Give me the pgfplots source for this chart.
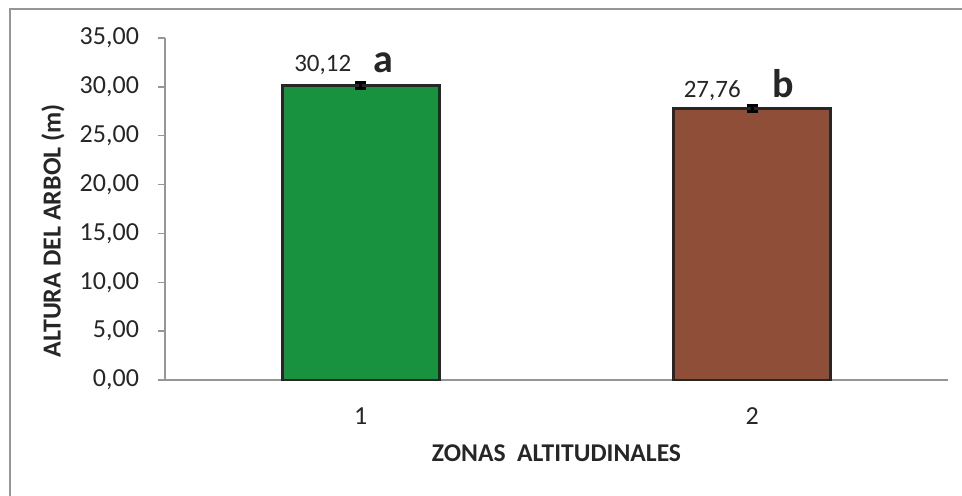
\documentclass[border=0pt]{standalone}
\usepackage{pgfplots}
\pgfplotsset{compat=1.18}
\usepackage{fontspec}
\setmainfont{Carlito}

\definecolor{verde}{RGB}{24,146,62}
\definecolor{cafe}{RGB}{143,78,56}
\definecolor{eje}{RGB}{150,150,150}

\begin{document}
\begin{tikzpicture}[font=\fontsize{13}{15}\selectfont]
\useasboundingbox (-82.5pt,-58pt) rectangle (398.5pt,190pt);
% marco exterior (solo se ven los bordes izquierdo y superior)
\draw[eje, line width=0.9pt] (-77.5pt,-70pt) -- (-77.5pt,185.5pt) -- (420pt,185.5pt);
\begin{axis}[
	scale only axis,
	width=391.5pt, height=171pt,
	xmin=0.5, xmax=2.5,
	ymin=0, ymax=35,
	axis lines=left,
	axis line style={eje, line width=0.7pt, -},
	tick style={eje, line width=0.7pt},
	tick align=outside,
	major tick length=3.5pt,
	ytick={0,5,...,35},
	xtick={1,2},
	xtick style={draw=none},
	extra x ticks={0.5,1.5,2.5},
	extra x tick labels={},
	extra x tick style={tick style={eje, line width=0.7pt}, major tick length=3.5pt},
	/pgf/number format/assume math mode=true,
	yticklabel style={/pgf/number format/fixed, /pgf/number format/fixed zerofill,
		/pgf/number format/precision=2, /pgf/number format/use comma,
		xshift=-6pt, text=black!85},
	xticklabel style={yshift=-7pt, text=black!85},
	ylabel={\bfseries ALTURA DEL ARBOL (m)},
	ylabel style={at={(axis description cs:-0.143,0.436)}, anchor=center, text=black!85},
	xlabel={\fontsize{12.8}{15}\selectfont\bfseries ZONAS\ \ ALTITUDINALES},
	xlabel style={at={(axis description cs:0.5,-0.213)}, anchor=center, text=black!85},
	ybar, bar width=78.5pt, bar shift=0pt,
	nodes near coords,
	nodes near coords style={/pgf/number format/fixed, /pgf/number format/fixed zerofill,
		/pgf/number format/precision=2, /pgf/number format/use comma,
		text=black!85, anchor=base, font=\fontsize{12.5}{15}\selectfont},
	clip=false,
]
\addplot[fill=verde, draw=black!85, line width=1.3pt,
	every node near coord/.append style={xshift=-19pt, yshift=7pt},
	error bars/.cd, y dir=both, y explicit,
	error mark=|,
	error bar style={black, line width=1.5pt},
	error mark options={black, line width=1.5pt, mark size=2.75pt},
	]
	coordinates {(1,30.12) +- (0,0.3)};
\addplot[fill=cafe, draw=black!85, line width=1.3pt,
	every node near coord/.append style={xshift=-20pt, yshift=5.4pt},
	error bars/.cd, y dir=both, y explicit,
	error mark=|,
	error bar style={black, line width=1.5pt},
	error mark options={black, line width=1.5pt, mark size=2.75pt},
	]
	coordinates {(2,27.76) +- (0,0.3)};
\node[anchor=base, font=\fontsize{20}{24}\selectfont\bfseries, text=black!85] at (axis cs:1.057,31.5) {a};
\node[anchor=base, font=\fontsize{20}{24}\selectfont\bfseries, text=black!85] at (axis cs:2.079,28.86) {b};
\end{axis}
\end{tikzpicture}
\end{document}
